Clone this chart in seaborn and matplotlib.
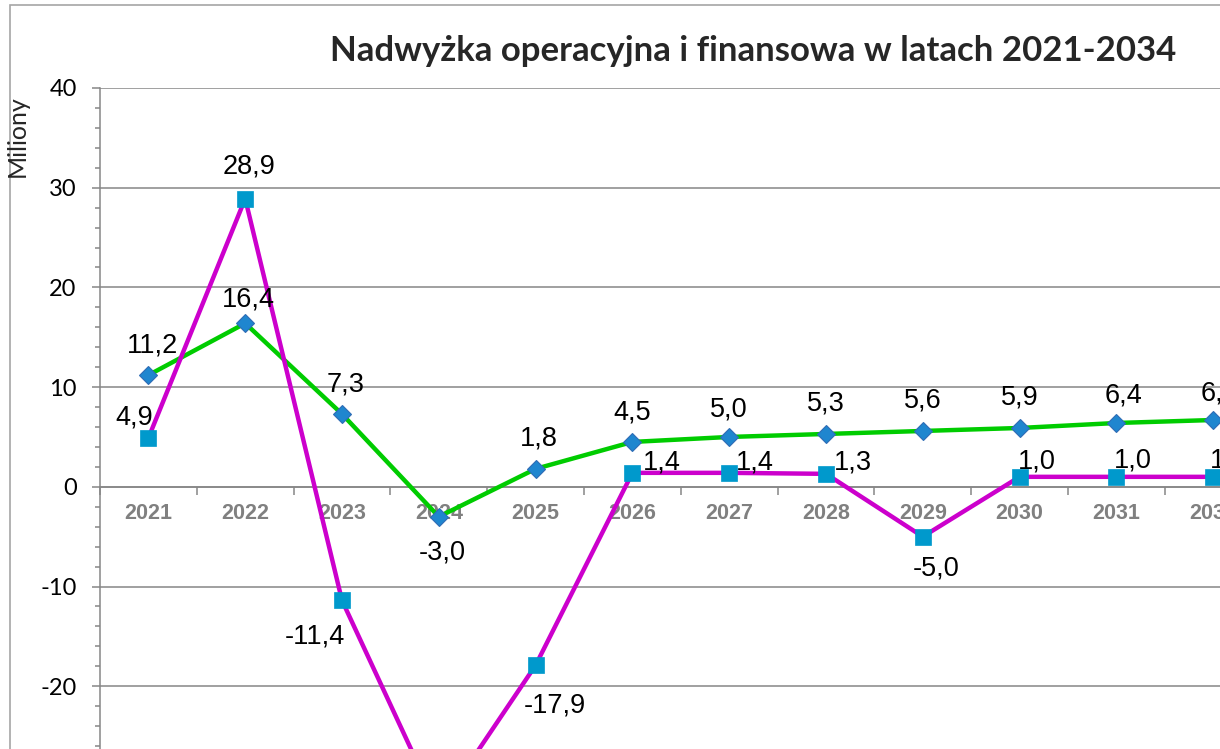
import matplotlib
matplotlib.use("Agg")
import matplotlib.pyplot as plt
from matplotlib.ticker import MultipleLocator, FixedLocator
from matplotlib.patches import Rectangle
import seaborn as sns
import pandas as pd
import numpy as np

# ---------------- data ----------------
years = ["2021", "2022", "2023", "2024", "2025", "2026", "2027",
         "2028", "2029", "2030", "2031", "2032"]
nadwyzka_operacyjna = [11.2, 16.4, 7.3, -3.0, 1.8, 4.5, 5.0, 5.3, 5.6, 5.9, 6.4, 6.7]
nadwyzka_finansowa = [4.9, 28.9, -11.4, -32.3, -17.9, 1.4, 1.4, 1.3, -5.0, 1.0, 1.0, 1.0]
n_categories = 14  # axis covers 2021-2034
title = "Nadwyżka operacyjna i finansowa w latach 2021-2034"
y_label = "Miliony"

# label offsets (pixels), styling only
off_op = [(4, 30), (3, 24), (4, 30), (3, -36), (3, 30), (0, 29), (0, 27),
          (0, 30), (0, 30), (0, 30), (7, 27), (6, 27)]
off_fin = [(-14, 20), (4, 32), (-27, -36), (0, -36), (19, -40), (29, 10), (26, 10),
           (27, 11), (13, -32), (17, 15), (16, 16), (16, 16)]

df = pd.DataFrame({"rok": years, "op": nadwyzka_operacyjna, "fin": nadwyzka_finansowa})

sns.set_style("white")
plt.rcParams["font.family"] = ["Liberation Sans", "DejaVu Sans"]
plt.rcParams["axes.unicode_minus"] = False

W, H = 1220, 749
fig = plt.figure(figsize=(W / 100, H / 100), dpi=100)
cat_w = 96.8
ax_left = 100 / W
ax_width = n_categories * cat_w / W
top_px = 88
unit_px = 9.97
ax_height = 80 * unit_px / H
ax_bottom = 1 - top_px / H - ax_height
ax = fig.add_axes([ax_left, ax_bottom, ax_width, ax_height])

green = "#00CC00"
magenta = "#CC00CC"
gray = "#868686"

sns.lineplot(data=df, x="rok", y="op", ax=ax, color=green, linewidth=3.2,
             marker="D", markersize=9, markerfacecolor="#1F86CF",
             markeredgecolor="#2F6CB5", markeredgewidth=0.8, zorder=3)
sns.lineplot(data=df, x="rok", y="fin", ax=ax, color=magenta, linewidth=3.2,
             marker="s", markersize=11.5, markerfacecolor="#0099CC",
             markeredgecolor="#0099CC", markeredgewidth=0.5, zorder=4)

ax.set_xlim(-0.5, n_categories - 0.5)
ax.set_ylim(-40, 40)
ax.set_xlabel("")
ax.set_ylabel("")

# y axis
ax.yaxis.set_major_locator(MultipleLocator(10))
ax.yaxis.set_minor_locator(MultipleLocator(2))
ax.grid(axis="y", which="major", color=gray, linewidth=1.1)
ax.grid(axis="x", visible=False)
ax.tick_params(axis="y", which="major", direction="out", length=5.8, width=1.1,
               color=gray, pad=11, labelsize=17, labelcolor="black", left=True)
ax.tick_params(axis="y", which="minor", direction="out", length=3.6, width=1.1,
               color=gray, left=True)
for lab in ax.get_yticklabels():
    lab.set_family(["Lato", "DejaVu Sans"])

# x axis at zero
for s in ["top", "right"]:
    ax.spines[s].set_visible(False)
ax.spines["left"].set_color(gray)
ax.spines["left"].set_linewidth(1.1)
ax.spines["bottom"].set_position(("data", 0))
ax.spines["bottom"].set_color(gray)
ax.spines["bottom"].set_linewidth(1.1)
ax.xaxis.set_major_locator(FixedLocator(np.arange(len(years))))
ax.set_xticklabels(years)
ax.xaxis.set_minor_locator(FixedLocator(np.arange(-0.5, n_categories, 1.0)))
ax.tick_params(axis="x", which="major", length=0, pad=12, labelsize=15.5,
               labelcolor="#808080", bottom=True)
ax.tick_params(axis="x", which="minor", direction="out", length=5.8, width=1.1,
               color=gray, bottom=True)
for lab in ax.get_xticklabels():
    lab.set_family(["Liberation Sans Narrow", "Liberation Sans"])
    lab.set_fontweight("bold")
    lab.set_fontstretch("condensed")

def fmt(v):
    return f"{v:.1f}".replace(".", ",")

for i, (v, o) in enumerate(zip(nadwyzka_operacyjna, off_op)):
    ax.annotate(fmt(v), (i, v), xytext=o, textcoords="offset pixels",
                ha="center", va="center", fontsize=19.5, color="black",
                annotation_clip=False, zorder=6)
for i, (v, o) in enumerate(zip(nadwyzka_finansowa, off_fin)):
    ax.annotate(fmt(v), (i, v), xytext=o, textcoords="offset pixels",
                ha="center", va="center", fontsize=19.5, color="black",
                annotation_clip=False, zorder=6)

# title and unit label
fig.text(753 / W, 1 - 51 / H, title, ha="center", va="center",
         fontsize=25, fontweight="bold", family=["Lato", "DejaVu Sans"])
fig.text(17 / W, 1 - 136 / H, y_label, ha="center", va="center", rotation=90,
         fontsize=18, family=["Lato", "DejaVu Sans"])

# chart area border
fig.patches.append(Rectangle((10 / W, -0.5), 2, 1 - 5 / H + 0.5,
                             transform=fig.transFigure, fill=False,
                             edgecolor="#A6A6A6", linewidth=1.2))

fig.savefig("out.png", dpi=100)
